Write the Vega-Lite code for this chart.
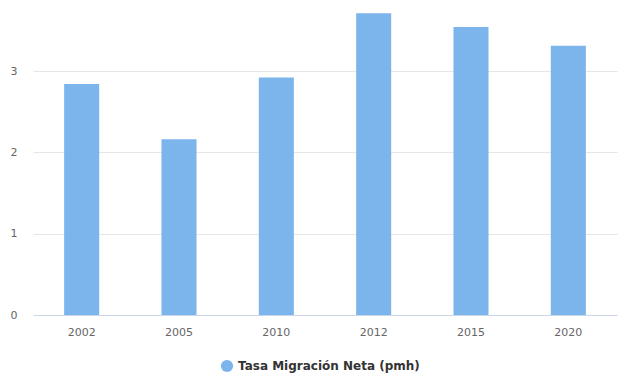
{
  "$schema": "https://vega.github.io/schema/vega-lite/v6.json",
  "autosize": {"type": "none"},
  "width": 584,
  "height": 305,
  "padding": {"left": 33, "top": 10, "right": 10, "bottom": 61},
  "background": "#ffffff",
  "data": {
    "values": [
      {"year": "2002", "value": 2.84, "serie": "Tasa Migración Neta (pmh)"},
      {"year": "2005", "value": 2.16, "serie": "Tasa Migración Neta (pmh)"},
      {"year": "2010", "value": 2.92, "serie": "Tasa Migración Neta (pmh)"},
      {"year": "2012", "value": 3.71, "serie": "Tasa Migración Neta (pmh)"},
      {"year": "2015", "value": 3.54, "serie": "Tasa Migración Neta (pmh)"},
      {"year": "2020", "value": 3.31, "serie": "Tasa Migración Neta (pmh)"}
    ]
  },
  "mark": {"type": "bar"},
  "encoding": {
    "x": {
      "field": "year",
      "type": "nominal",
      "sort": null,
      "scale": {"paddingInner": 0.64, "paddingOuter": 0.32},
      "axis": {
        "title": null,
        "labelAngle": 0,
        "ticks": false,
        "domainColor": "#ccd6eb",
        "labelColor": "#666666",
        "labelFont": "DejaVu Sans",
        "labelFontSize": 11,
        "labelPadding": 11
      }
    },
    "y": {
      "field": "value",
      "type": "quantitative",
      "scale": {"domain": [0, 3.75], "nice": false},
      "axis": {
        "title": null,
        "values": [0, 1, 2, 3],
        "ticks": false,
        "domain": false,
        "gridColor": "#e6e6e6",
        "labelColor": "#666666",
        "labelFont": "DejaVu Sans",
        "labelFontSize": 11,
        "labelPadding": 16
      }
    },
    "color": {
      "field": "serie",
      "type": "nominal",
      "scale": {"range": ["#7cb5ec"]},
      "legend": {
        "title": null,
        "orient": "none",
        "legendX": 187,
        "legendY": 349,
        "symbolType": "circle",
        "symbolSize": 150,
        "symbolOpacity": 1,
        "labelLimit": 0,
        "labelFont": "DejaVu Sans",
        "labelFontSize": 12,
        "labelFontWeight": "bold",
        "labelColor": "#333333"
      }
    }
  },
  "config": {"view": {"stroke": null}}
}
